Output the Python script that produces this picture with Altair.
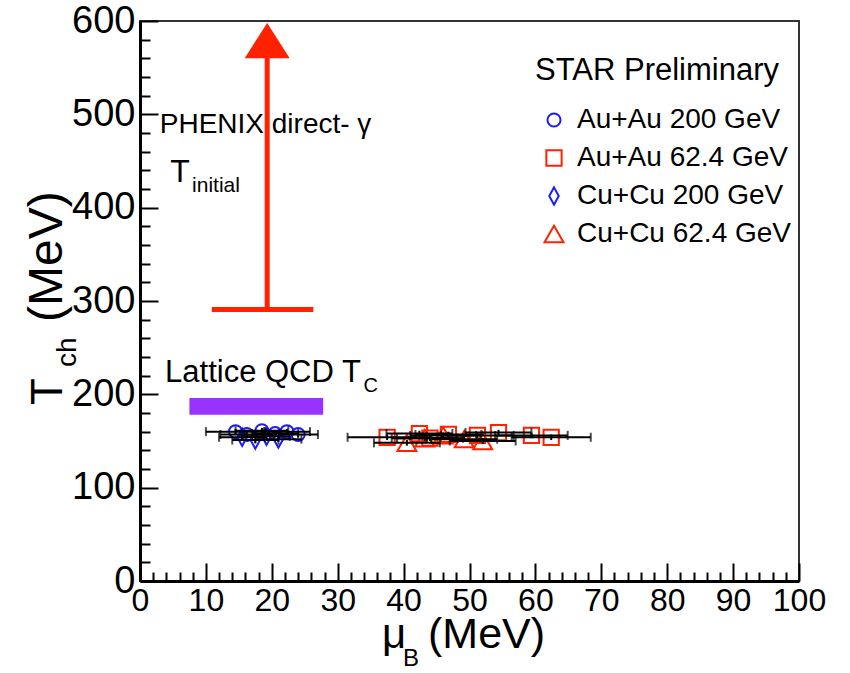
import altair as alt
import pandas as pd

FONT = "Liberation Sans"
RED = "#ff2200"
BLUE = "#1a1aff"
PURPLE = "#9933ff"

# ---------------- data ----------------
series_names = ["Au+Au 200 GeV", "Au+Au 62.4 GeV", "Cu+Cu 200 GeV", "Cu+Cu 62.4 GeV"]

au200_mu = [14.5, 16.2, 18.5, 20.5, 22.3, 24.0]
au200_T = [160, 157, 161, 158, 160, 157]
au200_xerr = [4.5, 4.0, 4.0, 3.5, 3.5, 3.0]

au62_mu = [37.5, 42.4, 44.0, 46.8, 51.2, 54.4, 59.4, 62.4]
au62_T = [154, 158, 153, 157, 156, 159, 156, 154]
au62_xerr = [6.0, 5.0, 5.0, 5.0, 5.5, 5.0, 5.5, 6.0]

cu200_mu = [15.5, 17.5, 19.2, 21.0]
cu200_T = [154, 151, 155, 152]
cu200_xerr = [3.5, 3.5, 3.5, 3.5]

cu62_mu = [40.5, 43.2, 46.0, 49.2, 52.0]
cu62_T = [148, 153, 156, 152, 150]
cu62_xerr = [5.0, 5.0, 5.0, 5.0, 5.0]

t_err = 3.0

# PHENIX direct photon T_initial (lower limit arrow)
phenix_mu = [19.3]
phenix_bar_mu = [10.9, 26.3]
phenix_T_low = [291]
phenix_head_T = [579]

# Lattice QCD Tc band
lattice_mu = [7.5, 27.8]
lattice_T = [178, 196]

# annotations (text, mu, T, size)
ann_text = ["PHENIX direct- \u03b3", "T", "initial", "Lattice QCD T", "C"]
ann_mu = [3.0, 4.6, 7.9, 3.8, 33.9]
ann_T = [480, 427, 417, 213, 202]
ann_size = [28, 32, 21, 31, 20]

x_ticks_major = list(range(0, 101, 10))
x_ticks_all = list(range(0, 101, 2))
y_ticks_major = list(range(0, 601, 100))
y_ticks_all = list(range(0, 601, 20))

# ---------------- tables ----------------
rows = []
for name, mus, ts, xe in [
    (series_names[0], au200_mu, au200_T, au200_xerr),
    (series_names[1], au62_mu, au62_T, au62_xerr),
    (series_names[2], cu200_mu, cu200_T, cu200_xerr),
    (series_names[3], cu62_mu, cu62_T, cu62_xerr),
]:
    for m, t, e in zip(mus, ts, xe):
        rows.append({"series": name, "mu": m, "T": t, "lo": m - e, "hi": m + e,
                     "tlo": t - t_err, "thi": t + t_err})
pts = pd.DataFrame(rows)
caps = pd.concat([pts[["lo", "T"]].rename(columns={"lo": "c"}),
                  pts[["hi", "T"]].rename(columns={"hi": "c"})])

W, H = 659, 560
xs = alt.Scale(domain=[0, 100], nice=False, zero=False)
ys = alt.Scale(domain=[0, 600], nice=False, zero=False)

x_lab_axis = alt.Axis(orient="bottom", values=x_ticks_major, tickSize=0, labelFontSize=32,
                      labelFont="Liberation Sans Narrow, Liberation Sans", labelPadding=4,
                      labelColor="black", labelFlush=False, labelOverlap=False,
                      domainWidth=3, domainColor="black", title=None, grid=False)
y_lab_axis = alt.Axis(orient="left", values=y_ticks_major, tickSize=0, labelFontSize=38,
                      labelFont=FONT, labelPadding=5, labelColor="black", labelFlush=False,
                      labelOverlap=False, domainWidth=3, domainColor="black", title=None, grid=False)
x_tick_axis = alt.Axis(orient="top", offset=-H, values=x_ticks_all, labels=False, domain=False,
                       tickSize={"condition": {"test": "datum.value % 10 === 0", "value": 18}, "value": 9},
                       tickWidth=2, tickColor="black", title=None, grid=False)
y_tick_axis = alt.Axis(orient="right", offset=-W, values=y_ticks_all, labels=False, domain=False,
                       tickSize={"condition": {"test": "datum.value % 100 === 0", "value": 18}, "value": 10},
                       tickWidth=2, tickColor="black", title=None, grid=False)

lat_df = pd.DataFrame({"x": [lattice_mu[0]], "x2": [lattice_mu[1]], "y": [lattice_T[0]], "y2": [lattice_T[1]]})
lattice = alt.Chart(lat_df).mark_rect(color=PURPLE).encode(
    x=alt.X("x:Q", scale=xs, axis=x_lab_axis), x2="x2:Q",
    y=alt.Y("y:Q", scale=ys, axis=y_lab_axis), y2="y2:Q")

ph_df = pd.DataFrame({"mu": phenix_mu, "lo": phenix_T_low, "hi": phenix_head_T,
                      "b0": [phenix_bar_mu[0]], "b1": [phenix_bar_mu[1]], "head": phenix_head_T})
ph_bar = alt.Chart(ph_df).mark_rule(color=RED, strokeWidth=5).encode(
    x=alt.X("b0:Q", scale=xs, axis=None), x2="b1:Q", y=alt.Y("lo:Q", scale=ys, axis=None))
ph_line = alt.Chart(ph_df).mark_rule(color=RED, strokeWidth=5).encode(
    x=alt.X("mu:Q", scale=xs, axis=None), y=alt.Y("lo:Q", scale=ys, axis=None), y2="hi:Q")
ph_head = alt.Chart(ph_df).mark_point(shape="M0,-0.78L1,0.78L-1,0.78Z", filled=True, color=RED,
                                      opacity=1, size=2025).encode(
    x=alt.X("mu:Q", scale=xs, axis=None), y=alt.Y("head:Q", scale=ys, axis=None))

legend = alt.Legend(title="STAR Preliminary", orient="none", legendX=395, legendY=35, padding=0,
                    titleFont=FONT, titleFontSize=31, titleFontWeight="normal", titleColor="black",
                    titlePadding=19, titleLimit=0, labelLimit=0,
                    labelFont=FONT, labelFontSize=28, labelColor="black",
                    labelOffset=9, rowPadding=10, symbolSize=340, symbolStrokeWidth=2,
                    symbolOffset=5)
markers = alt.Chart(pts).mark_point(filled=False, strokeWidth=2, opacity=1).encode(
    x=alt.X("mu:Q", scale=xs, axis=None),
    y=alt.Y("T:Q", scale=ys, axis=None),
    color=alt.Color("series:N", scale=alt.Scale(domain=series_names, range=[BLUE, RED, BLUE, RED]),
                    legend=legend),
    shape=alt.Shape("series:N", scale=alt.Scale(domain=series_names,
                    range=["circle", "square", "M0,-1L0.55,0L0,1L-0.55,0Z", "triangle-up"]),
                    legend=legend),
    size=alt.Size("series:N", scale=alt.Scale(domain=series_names, range=[170, 360, 256, 330]),
                  legend=None),
)

err_h = alt.Chart(pts).mark_rule(color="black", strokeWidth=2).encode(
    x=alt.X("lo:Q", scale=xs, axis=x_tick_axis), x2="hi:Q",
    y=alt.Y("T:Q", scale=ys, axis=y_tick_axis))
err_v = alt.Chart(pts).mark_rule(color="black", strokeWidth=2).encode(
    x=alt.X("mu:Q", scale=xs, axis=None), y=alt.Y("tlo:Q", scale=ys, axis=None), y2="thi:Q")
err_caps = alt.Chart(caps).mark_tick(color="black", orient="vertical", size=9, thickness=2).encode(
    x=alt.X("c:Q", scale=xs, axis=None), y=alt.Y("T:Q", scale=ys, axis=None))

ann_df = pd.DataFrame({"text": ann_text, "mu": ann_mu, "T": ann_T, "size": ann_size})
ann = alt.Chart(ann_df).mark_text(font=FONT, align="left", baseline="alphabetic", color="black").encode(
    x=alt.X("mu:Q", scale=xs, axis=None), y=alt.Y("T:Q", scale=ys, axis=None),
    text="text:N", size=alt.Size("size:Q", scale=None, legend=None))

# axis titles with subscripts
def title_piece(txt, px, py, fs, angle=0):
    return alt.Chart(pd.DataFrame({"t": [txt]})).mark_text(
        font=FONT, fontSize=fs, align="left", baseline="alphabetic", color="black", angle=angle
    ).encode(x=alt.value(px), y=alt.value(py), text="t:N")

xt1 = title_piece("\u03bc", 242, 627, 42)
xt2 = title_piece("B", 263, 645, 24)
xt3 = title_piece("(MeV)", 288, 627, 43)
yt1 = title_piece("T", -78, 384, 44, 270)
yt2 = title_piece("ch", -64, 346, 28, 270)
yt3 = title_piece("(MeV)", -78, 301, 48, 270)

chart = alt.layer(
    lattice, ph_bar, ph_line, ph_head, markers, err_h, err_v, err_caps, ann,
    xt1, xt2, xt3, yt1, yt2, yt3
).resolve_axis(x="independent", y="independent").properties(
    width=W, height=H,
    padding={"left": 140, "top": 21, "right": 51, "bottom": 92},
    autosize=alt.AutoSizeParams(type="none"),
    background="white",
).configure_view(stroke="#333333", strokeWidth=2)

chart.save("out.html", embed_options={"renderer": "svg", "actions": False})
